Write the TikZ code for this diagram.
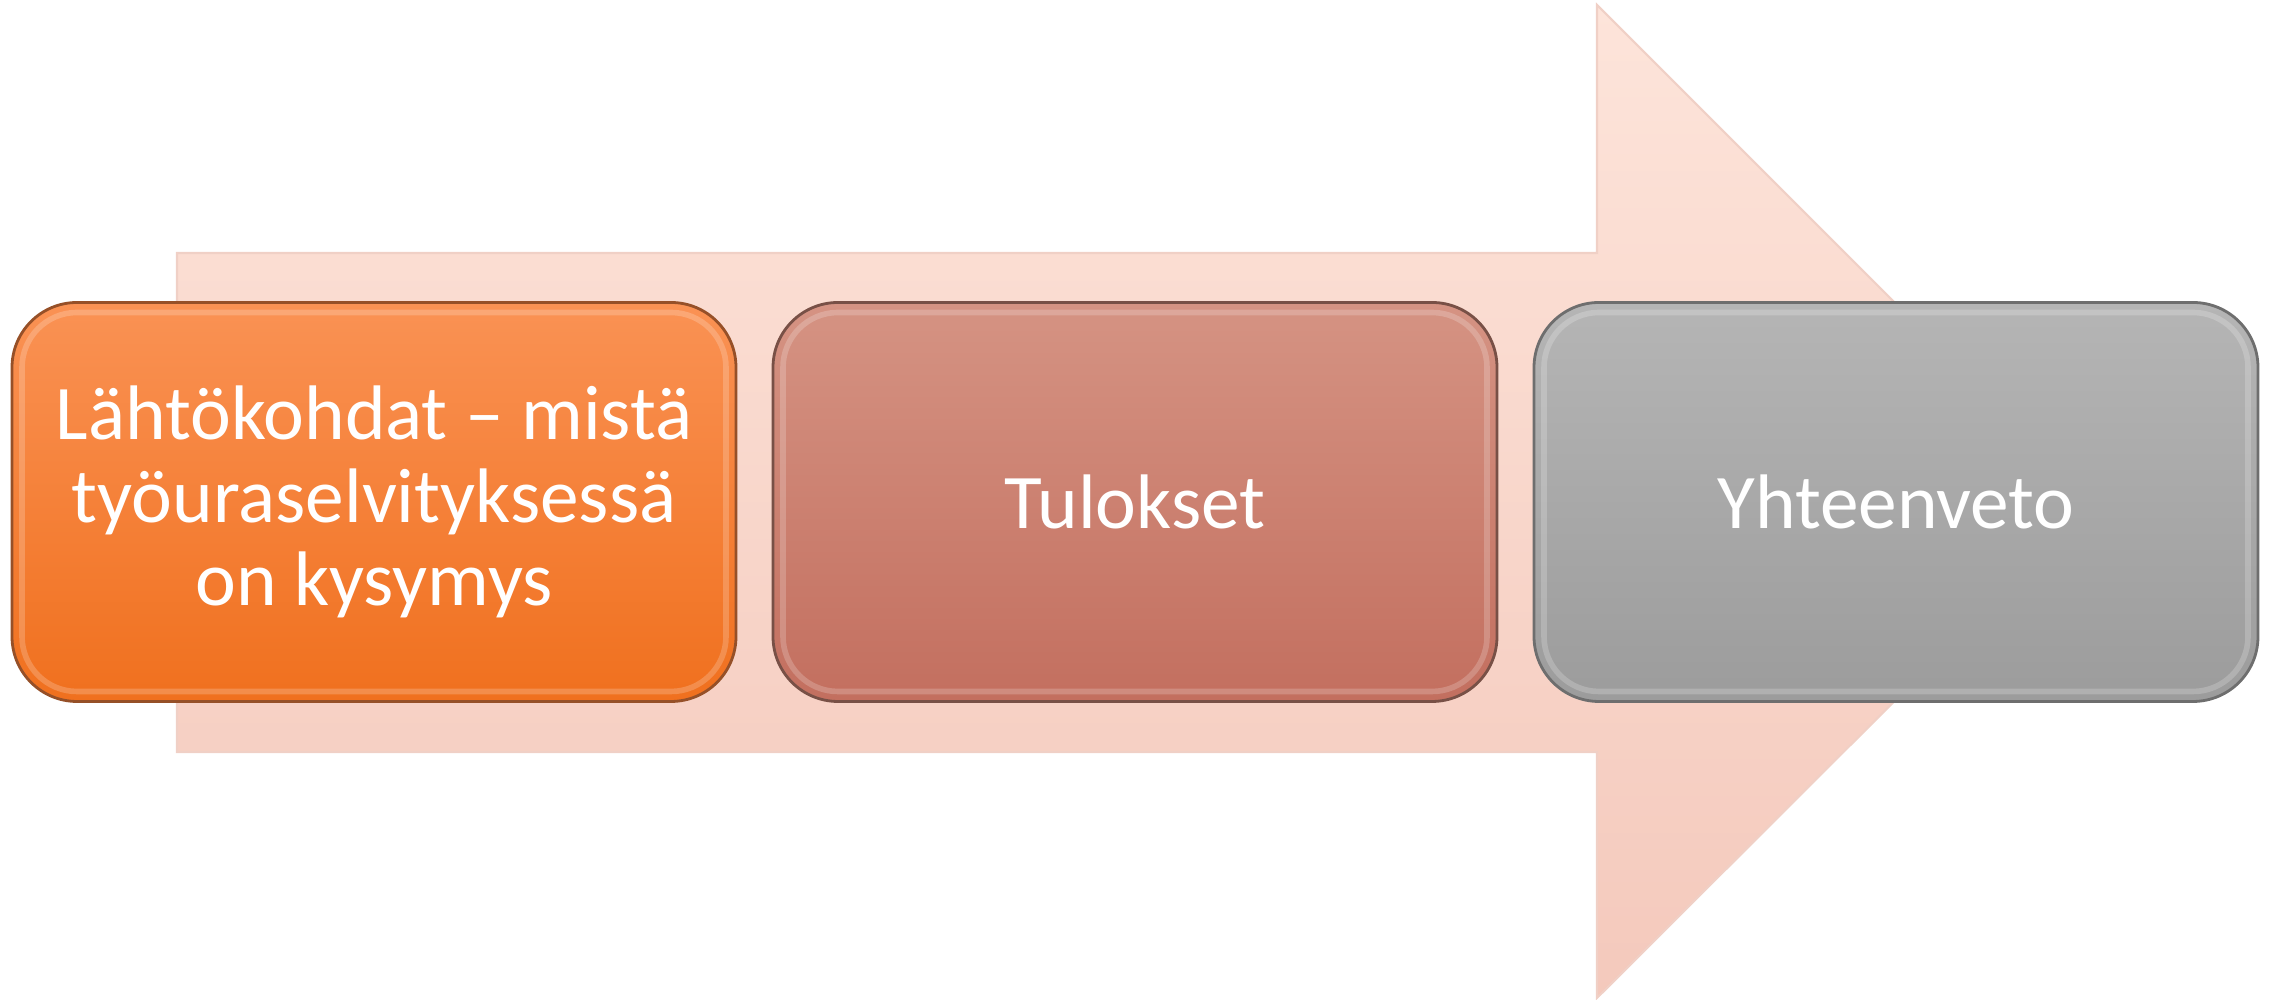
\documentclass[tikz,border=0pt]{standalone}
\usepackage{fontspec}
\setmainfont{Carlito}
\usetikzlibrary{positioning}
\definecolor{arrowtop}{RGB}{253,228,218}
\definecolor{arrowbot}{RGB}{244,201,188}
\definecolor{arrowedge}{RGB}{240,208,198}
\definecolor{orangetop}{RGB}{250,146,84}
\definecolor{orangebot}{RGB}{240,112,30}
\definecolor{orangeedge}{RGB}{150,80,40}
\definecolor{rosetop}{RGB}{213,147,131}
\definecolor{rosebot}{RGB}{195,111,95}
\definecolor{roseedge}{RGB}{120,80,70}
\definecolor{greytop}{RGB}{181,181,181}
\definecolor{greybot}{RGB}{156,156,156}
\definecolor{greyedge}{RGB}{110,110,110}

\begin{document}
\begin{tikzpicture}[
  stepbox/.style={rounded corners=0.65cm, minimum width=7.24cm, minimum height=3.99cm,
    inner sep=0pt, outer sep=0pt, line width=0.8pt, text=white, align=center,
    font=\fontsize{22}{23.6}\selectfont},
  bevel/.style={white, opacity=0.2, line width=1.6pt, rounded corners=0.55cm}]
\useasboundingbox (0,0) rectangle (22.77,10);

% Big arrow behind the boxes
\draw[top color=arrowtop, bottom color=arrowbot, draw=arrowedge, line width=0.6pt]
  (1.77,2.48) -- (15.97,2.48) -- (15.97,0.02) -- (20.94,4.98)
  -- (15.97,9.95) -- (15.97,7.47) -- (1.77,7.47) -- cycle;

% The three steps
\node[stepbox, top color=orangetop, bottom color=orangebot, draw=orangeedge] (start)
  at (3.74,4.98) {Lähtökohdat – mistä\\työuraselvityksessä\\on kysymys};
\node[stepbox, top color=rosetop, bottom color=rosebot, draw=roseedge,
  right=0.37cm of start] (results) {Tulokset};
\node[stepbox, top color=greytop, bottom color=greybot, draw=greyedge,
  right=0.37cm of results] (summary) {Yhteenveto};

% Soft inner edge on each box
\foreach \b in {start,results,summary}
  \draw[bevel] ([shift={(0.1,0.1)}]\b.south west) rectangle ([shift={(-0.1,-0.1)}]\b.north east);
\end{tikzpicture}
\end{document}
